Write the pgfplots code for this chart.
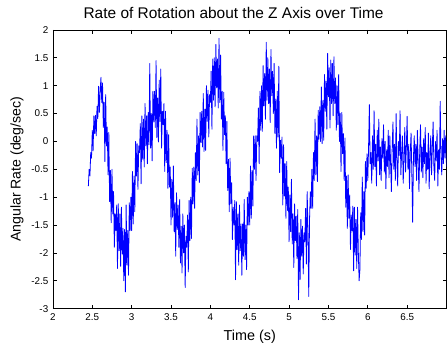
\documentclass[border=0pt]{standalone}
\usepackage{fontspec}
\setmainfont{Liberation Sans}
\usepackage{pgfplots}
\pgfplotsset{compat=1.18}
\begin{document}
\begin{tikzpicture}
\begin{axis}[
  scale only axis,
  width=295.5pt, height=209.25pt,
  xmin=2, xmax=7, ymin=-3, ymax=2,
  xtick={2,2.5,...,6.5},
  ytick={-3,-2.5,...,2},
  tick align=inside,
  major tick length=3pt,
  axis line style={line width=0.6pt},
  every tick/.style={black, line width=0.5pt},
  /pgf/number format/assume math mode=true,
  /pgf/number format/fixed,
  tick label style={font=\fontsize{7.4}{9}\selectfont},
  every axis title shift=0pt,
  title={Rate of Rotation about the Z Axis over Time},
  title style={at={(axis description cs:0.459,1.062)}, anchor=center, yshift=0pt, font=\fontsize{11.6}{13}\selectfont},
  xlabel={Time (s)},
  xlabel style={at={(axis description cs:0.5,-0.1004)}, anchor=center, font=\fontsize{10.8}{12}\selectfont},
  ylabel={Angular Rate (deg/sec)},
  ylabel style={at={(axis description cs:-0.0914,0.5)}, anchor=center, font=\fontsize{10.6}{12}\selectfont},
]
\addplot[color=blue, line width=0.6pt, line join=round] coordinates {
(2.45,-0.80)(2.46,-0.50)(2.47,-0.62)(2.48,-0.20)(2.49,-0.30)
(2.50,0.20)(2.51,-0.17)(2.52,0.46)(2.53,0.14)(2.54,0.47)
(2.55,0.10)(2.56,0.63)(2.57,0.41)(2.58,0.99)(2.59,0.52)
(2.60,0.90)(2.61,1.15)(2.62,0.70)(2.63,1.05)(2.64,0.25)
(2.65,0.70)(2.66,-0.36)(2.67,0.84)(2.68,-0.08)(2.69,0.26)
(2.70,-0.60)(2.71,0.16)(2.72,-1.08)(2.73,-0.52)(2.74,-1.46)
(2.75,-0.50)(2.76,-1.30)(2.77,-0.90)(2.78,-1.90)(2.79,-1.30)
(2.80,-1.60)(2.81,-1.14)(2.82,-2.28)(2.83,-1.12)(2.84,-1.96)
(2.85,-1.30)(2.86,-2.24)(2.87,-1.18)(2.88,-2.02)(2.89,-1.56)
(2.90,-2.50)(2.91,-1.58)(2.92,-2.70)(2.93,-1.14)(2.94,-2.22)
(2.95,-1.60)(2.96,-2.40)(2.97,-1.10)(2.98,-1.60)(2.99,-1.00)
(3.00,-1.60)(3.01,-0.54)(3.02,-1.48)(3.03,-0.62)(3.04,-1.26)
(3.05,0.00)(3.06,-0.62)(3.07,-0.04)(3.08,-0.86)(3.09,-0.08)
(3.10,-0.20)(3.11,0.32)(3.12,-0.76)(3.13,0.46)(3.14,-0.32)
(3.15,0.40)(3.16,-0.46)(3.17,0.68)(3.18,-0.08)(3.19,0.46)
(3.20,-0.40)(3.21,0.52)(3.22,-0.06)(3.23,1.40)(3.24,-0.12)
(3.25,0.50)(3.26,-0.35)(3.27,0.90)(3.28,0.35)(3.29,0.90)
(3.30,0.25)(3.31,1.45)(3.32,0.07)(3.33,0.78)(3.34,-0.01)
(3.35,1.10)(3.36,0.36)(3.37,1.30)(3.38,-0.12)(3.39,0.54)
(3.40,0.30)(3.41,0.68)(3.42,-0.54)(3.43,0.54)(3.44,-0.38)
(3.45,0.20)(3.46,-0.84)(3.47,0.12)(3.48,-0.82)(3.49,-0.46)
(3.50,-1.50)(3.51,-0.68)(3.52,-1.36)(3.53,-0.44)(3.54,-1.62)
(3.55,-1.10)(3.56,-2.06)(3.57,-0.92)(3.58,-1.58)(3.59,-1.14)
(3.60,-1.90)(3.61,-1.04)(3.62,-2.18)(3.63,-1.52)(3.64,-2.36)
(3.65,-1.30)(3.66,-2.00)(3.67,-1.50)(3.68,-2.62)(3.69,-1.70)
(3.70,-1.90)(3.71,-1.32)(3.72,-2.34)(3.73,-1.06)(3.74,-1.78)
(3.75,-1.00)(3.76,-1.74)(3.77,-0.48)(3.78,-1.12)(3.79,-0.46)
(3.80,-1.20)(3.81,-0.20)(3.82,-0.70)(3.83,0.40)(3.84,-0.60)
(3.85,0.10)(3.86,-0.74)(3.87,0.52)(3.88,-0.02)(3.89,0.54)
(3.90,-0.10)(3.91,0.86)(3.92,-0.18)(3.93,0.58)(3.94,-0.16)
(3.95,1.00)(3.96,0.36)(3.97,0.92)(3.98,0.08)(3.99,0.84)
(4.00,0.70)(4.01,1.26)(4.02,0.22)(4.03,1.48)(4.04,0.74)
(4.05,1.50)(4.06,0.62)(4.07,1.74)(4.08,0.96)(4.09,1.48)
(4.10,0.60)(4.11,1.85)(4.12,0.70)(4.13,1.55)(4.14,0.40)
(4.15,0.90)(4.16,-0.16)(4.17,0.88)(4.18,0.12)(4.19,0.46)
(4.20,-0.40)(4.21,0.36)(4.22,-0.88)(4.23,-0.32)(4.24,-1.26)
(4.25,-0.30)(4.26,-1.12)(4.27,-0.74)(4.28,-1.76)(4.29,-1.18)
(4.30,-1.50)(4.31,-1.06)(4.32,-2.48)(4.33,-1.08)(4.34,-1.94)
(4.35,-1.30)(4.36,-2.22)(4.37,-1.14)(4.38,-1.96)(4.39,-1.48)
(4.40,-2.40)(4.41,-1.48)(4.42,-2.06)(4.43,-1.04)(4.44,-2.12)
(4.45,-1.50)(4.46,-2.30)(4.47,-1.00)(4.48,-1.50)(4.49,-0.90)
(4.50,-1.50)(4.51,-0.44)(4.52,-1.38)(4.53,-0.52)(4.54,-1.16)
(4.55,0.10)(4.56,-0.50)(4.57,0.10)(4.58,-0.70)(4.59,0.10)
(4.60,0.00)(4.61,0.60)(4.62,-0.40)(4.63,0.90)(4.64,0.20)
(4.65,1.00)(4.66,0.18)(4.67,1.36)(4.68,0.64)(4.69,1.22)
(4.70,0.40)(4.71,1.78)(4.72,0.74)(4.73,1.50)(4.74,0.68)
(4.75,1.30)(4.76,0.34)(4.77,1.65)(4.78,0.82)(4.79,1.26)
(4.80,0.50)(4.81,1.40)(4.82,0.14)(4.83,0.76)(4.84,-0.12)
(4.85,0.90)(4.86,0.08)(4.87,1.35)(4.88,-0.56)(4.89,0.02)
(4.90,-0.30)(4.91,0.08)(4.92,-1.14)(4.93,-0.06)(4.94,-0.98)
(4.95,-0.40)(4.96,-1.38)(4.97,-0.36)(4.98,-1.24)(4.99,-0.82)
(5.00,-1.80)(5.01,-0.96)(5.02,-1.62)(5.03,-0.68)(5.04,-1.84)
(5.05,-1.30)(5.06,-2.26)(5.07,-1.12)(5.08,-1.78)(5.09,-1.34)
(5.10,-2.10)(5.11,-1.22)(5.12,-2.84)(5.13,-1.64)(5.14,-2.48)
(5.15,-1.40)(5.16,-2.06)(5.17,-1.52)(5.18,-2.38)(5.19,-1.64)
(5.20,-1.80)(5.21,-1.20)(5.22,-2.20)(5.23,-0.90)(5.24,-1.60)
(5.25,-2.78)(5.26,-1.40)(5.27,-0.90)(5.28,-1.20)(5.29,-0.50)
(5.30,-1.20)(5.31,-0.20)(5.32,-0.70)(5.33,0.40)(5.34,-0.60)
(5.35,0.10)(5.36,-0.72)(5.37,0.56)(5.38,0.04)(5.39,0.62)
(5.40,0.00)(5.41,0.98)(5.42,-0.04)(5.43,0.74)(5.44,0.02)
(5.45,1.20)(5.46,0.54)(5.47,1.08)(5.48,0.22)(5.49,1.58)
(5.50,0.80)(5.51,1.32)(5.52,0.24)(5.53,1.46)(5.54,0.68)
(5.55,1.40)(5.56,0.46)(5.57,1.52)(5.58,0.68)(5.59,1.14)
(5.60,0.20)(5.61,1.00)(5.62,0.30)(5.63,1.20)(5.64,0.00)
(5.65,0.50)(5.66,-0.54)(5.67,0.52)(5.68,-0.22)(5.69,0.14)
(5.70,-0.70)(5.71,0.06)(5.72,-1.18)(5.73,-0.62)(5.74,-1.56)
(5.75,-0.60)(5.76,-1.38)(5.77,-0.96)(5.78,-1.94)(5.79,-1.32)
(5.80,-1.60)(5.81,-1.16)(5.82,-2.32)(5.83,-1.18)(5.84,-2.04)
(5.85,-1.40)(5.86,-2.28)(5.87,-1.18)(5.88,-2.00)(5.89,-2.50)
(5.90,-2.30)(5.91,-1.28)(5.92,-1.76)(5.93,-0.64)(5.94,-1.62)
(5.95,-0.90)(5.96,-1.68)(5.97,-0.36)(5.98,-0.84)(5.99,-0.22)
(6.00,-0.70)(6.01,-0.10)(6.02,0.66)(6.03,-0.40)(6.04,-0.20)
(6.05,-0.75)(6.06,0.10)(6.07,-0.50)(6.08,0.55)(6.09,-0.45)
(6.10,-0.05)(6.11,-0.80)(6.12,0.20)(6.13,-0.35)(6.14,0.40)
(6.15,-0.60)(6.16,-0.10)(6.17,-0.70)(6.18,0.05)(6.19,-0.30)
(6.20,0.30)(6.21,-0.55)(6.22,0.00)(6.23,-0.85)(6.24,-0.15)
(6.25,-0.45)(6.26,0.20)(6.27,-0.65)(6.28,0.10)(6.29,-0.40)
(6.30,-0.90)(6.31,-0.10)(6.32,0.35)(6.33,-0.50)(6.34,-0.05)
(6.35,-0.70)(6.36,0.50)(6.37,-0.35)(6.38,-0.80)(6.39,0.00)
(6.40,-0.25)(6.41,0.55)(6.42,-0.60)(6.43,-0.20)(6.44,0.10)
(6.45,-0.75)(6.46,-0.30)(6.47,0.25)(6.48,-0.55)(6.49,-0.10)
(6.50,0.45)(6.51,-0.50)(6.52,-0.05)(6.53,-0.85)(6.54,-0.20)
(6.55,0.15)(6.56,-0.60)(6.57,-1.45)(6.58,-0.30)(6.59,0.10)
(6.60,-0.45)(6.61,-0.05)(6.62,-0.70)(6.63,0.20)(6.64,-0.35)
(6.65,-0.90)(6.66,-0.15)(6.67,0.30)(6.68,-0.55)(6.69,-0.10)
(6.70,-0.65)(6.71,0.05)(6.72,-0.40)(6.73,0.25)(6.74,-0.75)
(6.75,-0.20)(6.76,-0.50)(6.77,0.15)(6.78,-0.85)(6.79,-0.25)
(6.80,0.10)(6.81,-0.60)(6.82,-0.10)(6.83,0.35)(6.84,-0.45)
(6.85,-0.70)(6.86,0.00)(6.87,-0.35)(6.88,0.20)(6.89,-0.80)
(6.90,-0.15)(6.91,-0.50)(6.92,0.72)(6.93,-0.25)(6.94,-0.60)
(6.95,0.05)(6.96,-0.40)(6.97,0.20)(6.98,-0.30)(6.99,0.10)
(7.00,-0.45)
};
\end{axis}
\pgfresetboundingbox
\path ([xshift=-39.75pt,yshift=-30.75pt]current axis.south west) rectangle ([xshift=0.375pt,yshift=22.5pt]current axis.north east);
\end{tikzpicture}
\end{document}
